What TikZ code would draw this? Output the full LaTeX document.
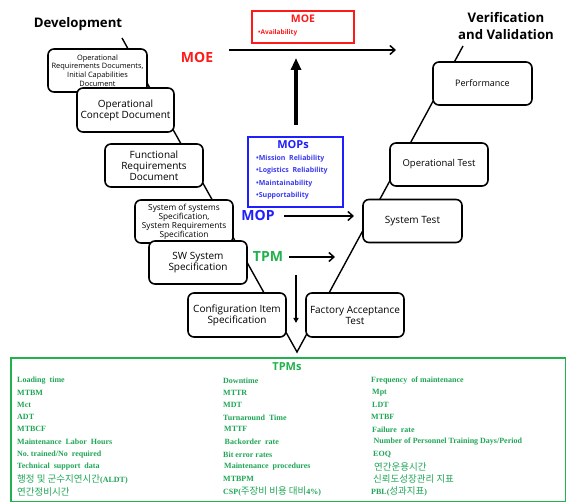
\documentclass[tikz,border=0pt]{standalone}
\usepackage{fontspec}
\setmainfont{Open Sans}
\newfontfamily\krfont{Noto Sans CJK KR}
\newfontfamily\tpmfont{Liberation Serif}
\usetikzlibrary{arrows.meta}
\definecolor{moered}{HTML}{FF1A1A}
\definecolor{mopblue}{HTML}{1E1EFF}
\definecolor{mopitem}{HTML}{3A3AF0}
\definecolor{tpmgreen}{HTML}{22B14C}
\definecolor{tpmtext}{HTML}{1FA556}
\newcommand\setfs[2]{\fontsize{#1}{#2}\selectfont}
\newcommand\tpmrow[3]{\node[tpmitem] at (#1,#2) {#3};}
\newcommand\tpmkr[3]{\node[tpmitem,font=\krfont\mdseries\setfs{9.5}{11}] at (#1,#2) {#3};}

\begin{document}
\begin{tikzpicture}[x=1pt,y=-1pt,
  stage/.style={draw=black, line width=1.6pt, rounded corners=6pt, fill=white,
    align=center, inner sep=1pt, minimum width=98pt, minimum height=43pt},
  vline/.style={draw=black, line width=1.4pt},
  flow/.style={draw=black, line width=1.5pt, -{Straight Barb[length=5pt,width=9pt,line width=1.5pt]}},
  tag/.style={font=\bfseries\setfs{14}{16}, inner sep=0pt},
  title/.style={font=\bfseries\setfs{13.2}{17}, align=center, inner sep=0pt},
  tpmitem/.style={anchor=west, inner sep=0pt, text=tpmtext, font=\tpmfont\bfseries\setfs{8}{9}},
  mopitem/.style={anchor=west, inner sep=0pt, text=mopitem, font=\bfseries\setfs{7}{8}}]

\useasboundingbox (0,0) rectangle (566,502);

% phase titles
\node[title] (dev) at (78,24) {Development};
\node[title] (vv) at (506,26) {Verification\\and Validation};

% the V line behind the stage boxes
\coordinate (vtop) at (122,38);
\coordinate (vbot) at (297,352);
\coordinate (vrtop) at (463,46);
\draw[vline] (vtop) -- (vbot) -- (vrtop);

% development side
\node[stage, minimum width=99pt, font=\setfs{7.4}{8.7}] (opreq) at (97.5,70.5)
  {Operational\\Requirements Documents,\\Initial Capabilities\\Document};
\node[stage, minimum width=97pt, minimum height=44pt, font=\setfs{10}{11}] (opcon) at (125.5,110)
  {Operational\\Concept Document};
\node[stage, font=\setfs{10}{11.2}] (frd) at (154,165.5)
  {Functional\\Requirements\\Document};
\node[stage, font=\setfs{8.3}{9.1}] (sos) at (184,221.5)
  {System of systems\\Specification,\\System Requirements\\Specification};
\node[stage, font=\setfs{10}{11}] (sw) at (198,262.5)
  {SW System\\Specification};
\node[stage, minimum height=44pt, font=\setfs{10}{11}] (cis) at (237,315)
  {Configuration Item\\Specification};

% verification side
\node[stage, minimum height=44pt, font=\setfs{10}{11}] (fat) at (355,315)
  {Factory Acceptance\\Test};
\node[stage, minimum width=99pt, font=\setfs{10}{11}] (st) at (412.5,221) {System Test};
\node[stage, font=\setfs{9.5}{11}] (ot) at (439,164.5) {Operational Test};
\node[stage, minimum width=99pt, font=\setfs{9}{10}] (perf) at (482.5,83.5) {Performance};

% MOE
\node[draw=moered, line width=1.6pt, minimum width=102pt, minimum height=32pt, inner sep=0pt] (moebox) at (303,27) {};
\node[text=moered, font=\bfseries\setfs{10.5}{11}, inner sep=0pt] (moetitle) at (303,19) {MOE};
\node[text=moered, font=\bfseries\setfs{6.5}{7}, anchor=west, inner sep=0pt] (moeitem) at (258,33) {•Availability};
\node[tag, text=moered] (moetag) at (197,57) {MOE};
\coordinate (moeA) at (229,50);
\coordinate (moeB) at (396,50);
\draw[flow] (moeA) -- (moeB);

% MOPs
\node[draw=mopblue, line width=1.6pt, minimum width=95pt, minimum height=70pt, inner sep=0pt] (mopbox) at (295.5,172) {};
\node[text=mopblue, font=\bfseries\setfs{11}{12}, inner sep=0pt] (moptitle) at (293,145) {MOPs};
\node[mopitem] (mop1) at (256,159) {•Mission\ \ Reliability};
\node[mopitem] (mop2) at (256,171) {•Logistics\ \ Reliability};
\node[mopitem] (mop3) at (256,183.5) {•Maintainability};
\node[mopitem] (mop4) at (256,196) {•Supportability};
\coordinate (upA) at (296,125);
\coordinate (upB) at (296,58);
\draw[line width=3.8pt, -{Triangle[length=12pt,width=10pt]}] (upA) -- (upB);

\node[tag, text=mopblue] (moptag) at (258,215.5) {MOP};
\coordinate (mopA) at (284,216);
\coordinate (mopB) at (354,216);
\draw[flow] (mopA) -- (mopB);

% TPM
\node[tag, text=tpmgreen] (tpmtag) at (268,257) {TPM};
\coordinate (tpmA) at (289,257);
\coordinate (tpmB) at (335,257);
\draw[flow] (tpmA) -- (tpmB);
\coordinate (downA) at (296,275);
\coordinate (downB) at (296,323);
\draw[line width=1.3pt, -{Triangle[length=5pt,width=5pt]}] (downA) -- (downB);

% TPM list
\node[draw=tpmgreen, line width=2pt, minimum width=555pt, minimum height=144pt, inner sep=0pt, anchor=north west] (tpmbox) at (10,357) {};
\node[text=tpmgreen, font=\bfseries\setfs{11}{12}, inner sep=0pt] (tpmtitle) at (287,366.5) {TPMs};

\tpmrow{17}{381}{Loading\ \ time}
\tpmrow{17}{392.7}{MTBM}
\tpmrow{17}{405}{Mct}
\tpmrow{17}{417.3}{ADT}
\tpmrow{17}{429.3}{MTBCF}
\tpmrow{17}{442}{Maintenance\ \ Labor\ \ Hours}
\tpmrow{17}{454.7}{No.\ trained/No\ \ required}
\tpmrow{17}{466.7}{Technical\ \ support\ \ data}
\tpmkr{17}{479.3}{행정 및 군수지연시간\tpmfont\bfseries\setfs{8}{9}(ALDT)}
\tpmkr{17}{491.7}{연간정비시간}

\tpmrow{223}{381}{Downtime}
\tpmrow{223}{392.7}{MTTR}
\tpmrow{223}{405}{MDT}
\tpmrow{223}{417.3}{Turnaround\ \ Time}
\tpmrow{224}{429.3}{MTTF}
\tpmrow{224.5}{442}{Backorder\ \ rate}
\tpmrow{223}{454.7}{Bit error rates}
\tpmrow{224}{466.7}{Maintenance\ \ procedures}
\tpmrow{223}{479.3}{MTBPM}
\node[tpmitem] at (223,491.7) {CSP({\krfont\mdseries\setfs{9.5}{11}주장비 비용 대비}4\%)};

\tpmrow{371}{381}{Frequency\ \ of maintenance}
\tpmrow{372}{392.7}{Mpt}
\tpmrow{372}{405}{LDT}
\tpmrow{371}{417.3}{MTBF}
\tpmrow{372}{429.3}{Failure\ \ rate}
\tpmrow{373.5}{442}{Number\ of\ Personnel\ Training\ Days/Period}
\tpmrow{373}{454.7}{EOQ}
\tpmkr{374}{466.7}{연간운용시간}
\tpmkr{373}{479.3}{신뢰도성장관리 지표}
\node[tpmitem] at (371,491.7) {PBL({\krfont\mdseries\setfs{9.5}{11}성과지표})};

\end{tikzpicture}
\end{document}
